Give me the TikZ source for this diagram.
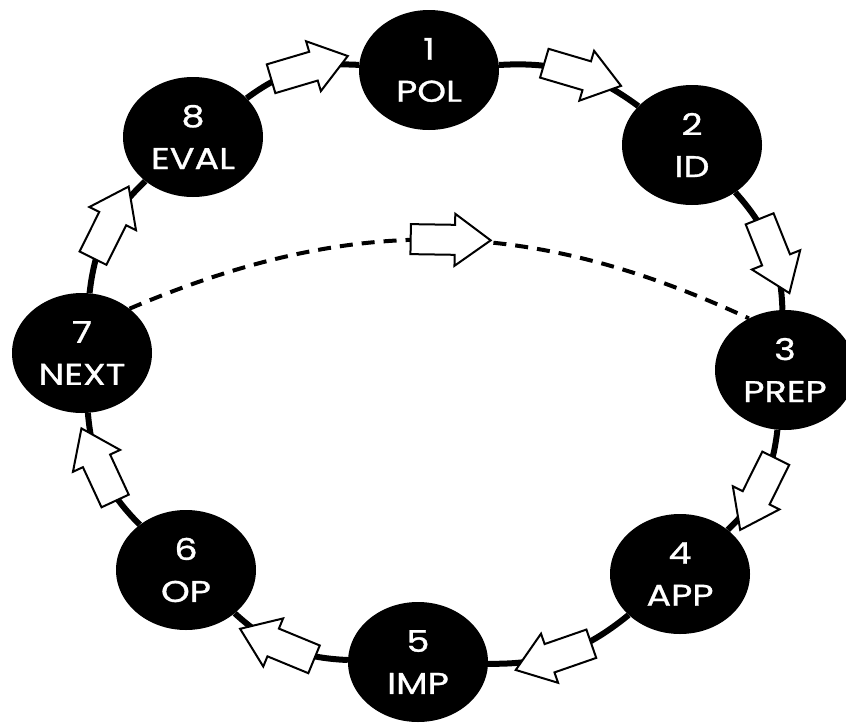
\documentclass[tikz,border=0pt]{standalone}
\usepackage{fontspec}
\setmainfont{Poppins}
\newfontfamily\stagefont[FakeBold=1,FakeStretch=1.22]{Poppins}
\usetikzlibrary{shapes.geometric,shapes.arrows}
\begin{document}
\begin{tikzpicture}[x=1pt,y=1pt,
  stage/.style={ellipse, fill=black, minimum width=140pt, minimum height=120pt, inner sep=0pt,
    text=white, align=center, font=\stagefont\fontsize{30}{42}\selectfont},
  ring/.style={line width=6pt},
  blockarrow/.style={single arrow, draw=black, fill=white, solid, line width=2pt, minimum height=80pt,
    inner xsep=0pt, inner ysep=14pt, text height=0pt, text depth=0pt,
    single arrow head extend=11pt, single arrow tip angle=72, sloped, allow upside down, anchor=center},
  dashline/.style={line width=4pt, dash pattern=on 13pt off 9pt}]
\path[use as bounding box] (0,0) rectangle (846,-723);
\node[stage] (n1) at (429,-70) {1\\POL};
\node[stage] (n2) at (692,-145) {2\\ID};
\node[stage] (n3) at (785,-370) {3\\PREP};
\node[stage] (n4) at (680,-574) {4\\APP};
\node[stage] (n5) at (418,-662) {5\\IMP};
\node[stage] (n6) at (186,-570) {6\\OP};
\node[stage] (n7) at (82,-353) {7\\NEXT};
\node[stage] (n8) at (193,-137) {8\\EVAL};
\draw[ring] (n1) to[bend left=20] node[blockarrow]{} (n2);
\draw[ring] (n2) to[bend left=20] node[blockarrow]{} (n3);
\draw[ring] (n3) to[bend left=20] node[blockarrow]{} (n4);
\draw[ring] (n4) to[bend left=20] node[blockarrow]{} (n5);
\draw[ring] (n5) to[bend left=20] node[blockarrow]{} (n6);
\draw[ring] (n6) to[bend left=20] node[blockarrow]{} (n7);
\draw[ring] (n7) to[bend left=20] node[blockarrow]{} (n8);
\draw[ring] (n8) to[bend left=20] node[blockarrow]{} (n1);
\draw[dashline] (n7.43) to[bend left=24] node[blockarrow]{} (n3.125);
\end{tikzpicture}
\end{document}
